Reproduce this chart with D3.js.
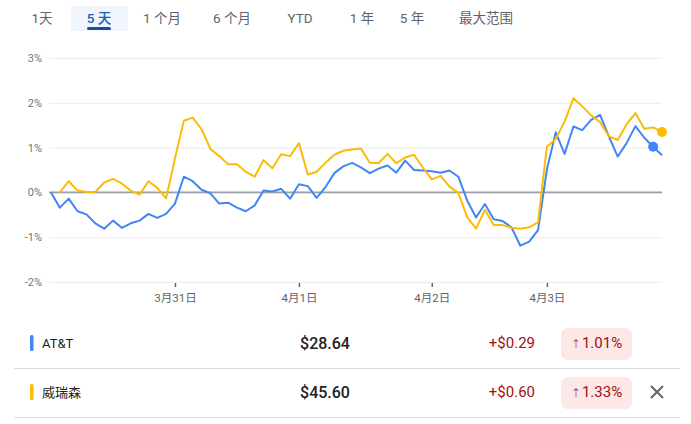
<!DOCTYPE html>
<html>
<head>
<meta charset="utf-8">
<script src="https://cdn.jsdelivr.net/npm/d3@7"></script>
<style>
  body { margin: 0; background: #fff; }
  svg { display: block; font-family: Roboto, "Noto Sans CJK SC", sans-serif; }
</style>
</head>
<body>
<div id="graph"></div>
<script>
const tabs = ["1天", "5 天", "1 个月", "6 个月", "YTD", "1 年", "5 年", "最大范围"];
const tabCenters = [42, 99, 162, 232, 300, 362, 412, 486];
const selectedTab = 1;

const yTicks = [3, 2, 1, 0, -1, -2];
const xTickIdx = [14, 28, 43, 56];
const xTickLabels = ["3月31日", "4月1日", "4月2日", "4月3日"];

// % change, 70 points each (null = no data yet)
const att = [0, -0.34, -0.14, -0.42, -0.49, -0.69, -0.81, -0.63, -0.79, -0.69,
  -0.63, -0.48, -0.57, -0.48, -0.25, 0.35, 0.25, 0.06, -0.02, -0.25,
  -0.23, -0.34, -0.42, -0.29, 0.04, 0.02, 0.08, -0.14, 0.18, 0.14,
  -0.12, 0.12, 0.43, 0.58, 0.66, 0.56, 0.43, 0.53, 0.60, 0.44,
  0.71, 0.50, 0.49, 0.47, 0.44, 0.49, 0.35, -0.18, -0.56, -0.26,
  -0.60, -0.64, -0.78, -1.19, -1.10, -0.84, 0.51, 1.34, 0.86, 1.47,
  1.39, 1.62, 1.73, 1.25, 0.80, 1.10, 1.48, 1.22, 1.02, 0.83];
const verizon = [null, 0, 0.25, 0.04, 0.01, 0.01, 0.22, 0.30, 0.20, 0.04,
  -0.05, 0.25, 0.10, -0.13, 0.76, 1.60, 1.67, 1.41, 0.97, 0.81,
  0.63, 0.63, 0.46, 0.35, 0.72, 0.54, 0.85, 0.81, 1.10, 0.40,
  0.46, 0.66, 0.84, 0.93, 0.96, 0.98, 0.66, 0.65, 0.86, 0.65,
  0.78, 0.84, 0.55, 0.29, 0.37, 0.13, -0.01, -0.55, -0.81, -0.39,
  -0.73, -0.73, -0.79, -0.81, -0.78, -0.67, 1.02, 1.19, 1.58, 2.10,
  1.92, 1.72, 1.57, 1.25, 1.17, 1.52, 1.77, 1.42, 1.45, 1.35];

const names = ["AT&T", "威瑞森"];
const colors = ["#4285f4", "#fbbc04"];
const prices = ["$28.64", "$45.60"];
const changes = ["+$0.29", "+$0.60"];
const pcts = ["1.01%", "1.33%"];
const dotIdx = [68, 69];

const width = 691;
const height = 424;
const marginLeft = 49;
const plotLeft = 51;
const plotRight = 662;
const plotTop = 58;
const plotBottom = 282;

const x = d3.scaleLinear().domain([0, att.length - 1]).range([plotLeft, plotRight]);
const y = d3.scaleLinear().domain([-2, 3]).range([plotBottom, plotTop]);

const svg = d3.create("svg")
  .attr("width", width)
  .attr("height", height)
  .attr("viewBox", `0 0 ${width} ${height}`);

// tabs
svg.append("rect")
  .attr("x", 71).attr("y", 6).attr("width", 57).attr("height", 25)
  .attr("fill", "#f1f5fc");
svg.append("rect")
  .attr("x", 87).attr("y", 27).attr("width", 24).attr("height", 3).attr("rx", 1.5)
  .attr("fill", "#1a4f9c");
svg.append("g")
  .selectAll("text")
  .data(tabs)
  .join("text")
  .attr("x", (d, i) => tabCenters[i])
  .attr("y", 18)
  .attr("dy", "0.35em")
  .attr("text-anchor", "middle")
  .attr("font-size", 13.5)
  .attr("fill", (d, i) => i === selectedTab ? "#1a5cb8" : "#5f6368")
  .attr("font-weight", (d, i) => i === selectedTab ? 500 : 400)
  .text(d => d);

// y axis + grid
svg.append("g")
  .attr("transform", `translate(${marginLeft},0)`)
  .call(d3.axisLeft(y).tickValues(yTicks).tickFormat(d => d + "%")
    .tickSize(-(plotRight - marginLeft)).tickPadding(7))
  .call(g => g.select(".domain").remove())
  .call(g => g.selectAll("line").attr("stroke", "#ececec"))
  .call(g => g.selectAll("text").attr("fill", "#70757a").attr("font-size", 11)
    .attr("font-family", "Roboto, sans-serif"));

// zero line
svg.append("line")
  .attr("x1", marginLeft).attr("x2", plotRight)
  .attr("y1", y(0)).attr("y2", y(0))
  .attr("stroke", "#9aa0a6").attr("stroke-width", 1.6);

// x axis
svg.append("g")
  .attr("transform", `translate(0,${plotBottom + 1})`)
  .call(d3.axisBottom(x).tickValues(xTickIdx)
    .tickFormat((d, i) => xTickLabels[i]).tickSize(4).tickPadding(7))
  .call(g => g.select(".domain").remove())
  .call(g => g.selectAll("line").attr("stroke", "#5f6368").attr("stroke-width", 1.5))
  .call(g => g.selectAll("text").attr("fill", "#5f6368").attr("font-size", 11.5)
    .attr("font-family", "Roboto, 'Noto Sans CJK SC', sans-serif"));

// lines
const line = d3.line()
  .defined(d => d !== null)
  .x((d, i) => x(i))
  .y(d => y(d));

const series = [att, verizon];

svg.append("g")
  .selectAll("path")
  .data(series)
  .join("path")
  .attr("fill", "none")
  .attr("stroke", (d, i) => colors[i])
  .attr("stroke-width", 2)
  .attr("stroke-linejoin", "round")
  .attr("d", d => line(d));

svg.append("g")
  .selectAll("circle")
  .data(series)
  .join("circle")
  .attr("cx", (d, i) => x(dotIdx[i]))
  .attr("cy", (d, i) => y(d[dotIdx[i]]))
  .attr("r", 5)
  .attr("fill", (d, i) => colors[i]);

// table rows
const rowY = [343, 392];
const rows = svg.append("g")
  .selectAll("g")
  .data(names)
  .join("g")
  .attr("transform", (d, i) => `translate(0,${rowY[i]})`);

rows.append("rect")
  .attr("x", 30).attr("y", -8).attr("width", 3.5).attr("height", 16).attr("rx", 1.5)
  .attr("fill", (d, i) => colors[i]);
rows.append("text")
  .attr("x", 42).attr("dy", "0.35em")
  .attr("font-size", 13).attr("fill", "#202124")
  .text(d => d);
rows.append("text")
  .attr("x", 325).attr("dy", "0.35em").attr("text-anchor", "middle")
  .attr("font-size", 16).attr("font-weight", 500).attr("fill", "#202124")
  .text((d, i) => prices[i]);
rows.append("text")
  .attr("x", 535).attr("dy", "0.35em").attr("text-anchor", "end")
  .attr("font-size", 15).attr("fill", "#a50e0e")
  .text((d, i) => changes[i]);
rows.append("rect")
  .attr("x", 561).attr("y", -15).attr("width", 71).attr("height", 32).attr("rx", 7)
  .attr("fill", "#fce8e6");
const pctText = rows.append("text")
  .attr("x", 596.5).attr("dy", "0.35em").attr("text-anchor", "middle")
  .attr("font-size", 15).attr("fill", "#a50e0e");
pctText.append("tspan")
  .attr("font-size", 12).attr("font-family", "DejaVu Sans, sans-serif")
  .attr("font-weight", 300)
  .text("↑");
pctText.append("tspan")
  .attr("dx", 1)
  .text((d, i) => pcts[i]);

// dividers
svg.append("g")
  .selectAll("line")
  .data(rowY)
  .join("line")
  .attr("x1", 14).attr("x2", 680)
  .attr("y1", d => d + 25.5).attr("y2", d => d + 25.5)
  .attr("stroke", "#dadce0").attr("stroke-width", 1);

// close icon on second row
svg.append("path")
  .attr("d", "M651,386L663,398M663,386L651,398")
  .attr("stroke", "#5f6368").attr("stroke-width", 2);

d3.select("#graph").append(() => svg.node());
</script>
</body>
</html>
